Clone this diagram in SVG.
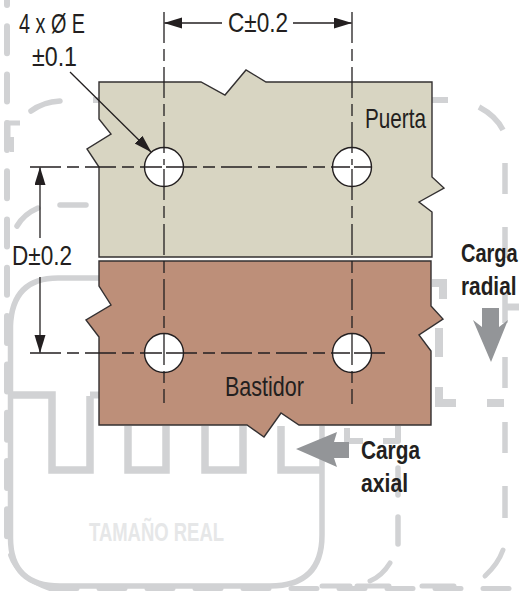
<svg xmlns="http://www.w3.org/2000/svg" width="519" height="592" viewBox="0 0 519 592">
<style>
text{font-family:"Liberation Sans Narrow","Liberation Sans",sans-serif;fill:#231f20}
.b{font-weight:700}
.g{fill:none;stroke:#d1d2d4}
.plate{stroke:#333031;stroke-width:1.4;stroke-linejoin:miter}
.hole{fill:#fff;stroke:#231f20;stroke-width:1.4}
.c{fill:none;stroke:#231f20;stroke-width:1.3}
.cl{stroke-dasharray:31 6 12 6}
.load{fill:#939598}
</style>
<defs>
<marker id="ah" markerUnits="userSpaceOnUse" markerWidth="18" markerHeight="12" refX="17.5" refY="5.5" orient="auto"><path d="M0,0L18,5.5L0,11z" fill="#231f20"/></marker>
</defs>
<g id="background-outlines">
<path class="g" stroke-width="5.5" d="M99,278H58Q12,278 10.500,326V538Q10.500,586 60,586H270Q322,586 322,535V426"/>
<path class="g" stroke-width="7.500" d="M10,395H52V470H90V396M128,426V470H166V426M205,426V470H243V426M281,426V470H322"/>
<path class="g" stroke-width="7" d="M90,395H99"/>
<g class="g" stroke-width="5.500" stroke-linecap="round">
<path d="M7,-22V540" stroke-dasharray="27 21.300" stroke-width="6"/>
<path d="M10,555Q18,578 50,589" stroke-width="4"/>
<path d="M50,588.500H510" stroke-dasharray="26 22" stroke-dashoffset="-1" stroke-width="5"/>
<path d="M31,111Q43,102 60,101"/>
<path d="M17,226Q24,214 38,208"/>
<path d="M60,205H86"/>
<path d="M479,107Q496,116 503,130" stroke-linecap="butt"/>
<path d="M485,576Q498,564 503,550" stroke-width="5"/>
<path d="M370,581Q382,576 390,563" stroke-width="5"/>
<path d="M322,586H350M357,586H389M422,586H454" stroke-width="5"/>
<path d="M398,468V495M398,517V544" stroke-width="5.500"/>
<path d="M347,428V441H363M383,441H398V426" stroke-linejoin="round" stroke-linecap="butt" stroke-width="6"/>
<path d="M505,163V194M505,227V258M505,292V323M505,357V388M505,422V453M505,486V518" stroke-linecap="butt"/>
<path d="M505,307H519" stroke-linecap="butt" stroke-width="7"/>
</g>
<g class="g" stroke-width="8">
<path d="M432,283H443V299"/>
<path d="M439,328V357"/>
<path d="M439,387V403H456"/>
<path d="M487,403H504"/>
<path d="M93,100H99M432,100H448" stroke-width="6"/>
<path d="M20,123H8V150" stroke-width="5"/>
<path d="M12,137V152" stroke-width="4"/>
</g>
</g>
<g id="puerta">
<path class="plate" fill="#d8d5c2" d="M99,82H201L225,95L246,70L266,82H432V177L444,188L419,202L432,212V257H99V167L87,149L111,134L99,119Z"/>
<circle class="hole" cx="164" cy="167" r="19.500"/>
<circle class="hole" cx="352" cy="167" r="19.500"/>
<text x="365" y="128" font-size="28" textLength="61" lengthAdjust="spacingAndGlyphs">Puerta</text>
</g>
<g id="bastidor">
<path class="plate" fill="#bd8f79" d="M99,261H431V306L443,319L419,335L431,351V425H299L281,413L264,437L247,425H99V337L86,320L111,305L99,286Z"/>
<circle class="hole" cx="164" cy="353" r="19.500"/>
<circle class="hole" cx="352" cy="353" r="19.500"/>
<text x="225" y="396" font-size="28" textLength="79" lengthAdjust="spacingAndGlyphs">Bastidor</text>
</g>
<g id="connectors">
<path class="c cl" d="M164,12V165M164,169V403"/>
<path class="c cl" d="M352,12V165M352,169V404"/>
<path class="c cl" d="M30,167H162M166,167H350M354,167H371"/>
<path class="c cl" d="M30,353H162M166,353H350M354,353H391"/>
<path class="c" marker-end="url(#ah)" d="M222,23H164.500"/>
<path class="c" marker-end="url(#ah)" d="M293,23H351.500"/>
<path class="c" marker-end="url(#ah)" d="M40,238V167.500"/>
<path class="c" marker-end="url(#ah)" d="M40,277V352.500"/>
<path class="c" marker-end="url(#ah)" d="M70,72L151,152"/>
</g>
<g id="load-axial">
<polygon class="load" points="296,449 337,432 334,442 349,442 349,458 334,458 337,467"/>
<text class="b" x="361" y="459" font-size="26" textLength="59" lengthAdjust="spacingAndGlyphs">Carga</text>
<text class="b" x="361" y="492" font-size="26" textLength="47" lengthAdjust="spacingAndGlyphs">axial</text>
</g>
<g id="load-radial">
<polygon class="load" points="482,308 499,308 499,327 508,320 491,362 473,320 482,327"/>
<text class="b" transform="translate(461 262) scale(.77 1)" font-size="26">Carga</text>
<text class="b" transform="translate(461 295) scale(.8 1)" font-size="26">radial</text>
</g>
<g id="labels">
<text x="19" y="33" font-size="28" textLength="66" lengthAdjust="spacingAndGlyphs">4 x Ø E</text>
<text x="32" y="66" font-size="28" textLength="45" lengthAdjust="spacingAndGlyphs">±0.1</text>
<text x="228" y="32" font-size="28" textLength="60" lengthAdjust="spacingAndGlyphs">C±0.2</text>
<text x="12" y="265" font-size="28" textLength="60" lengthAdjust="spacingAndGlyphs">D±0.2</text>
<text class="b" x="89" y="541" font-size="25" textLength="135" lengthAdjust="spacingAndGlyphs" style="fill:#e6e7e8">TAMAÑO REAL</text>
</g>
</svg>
